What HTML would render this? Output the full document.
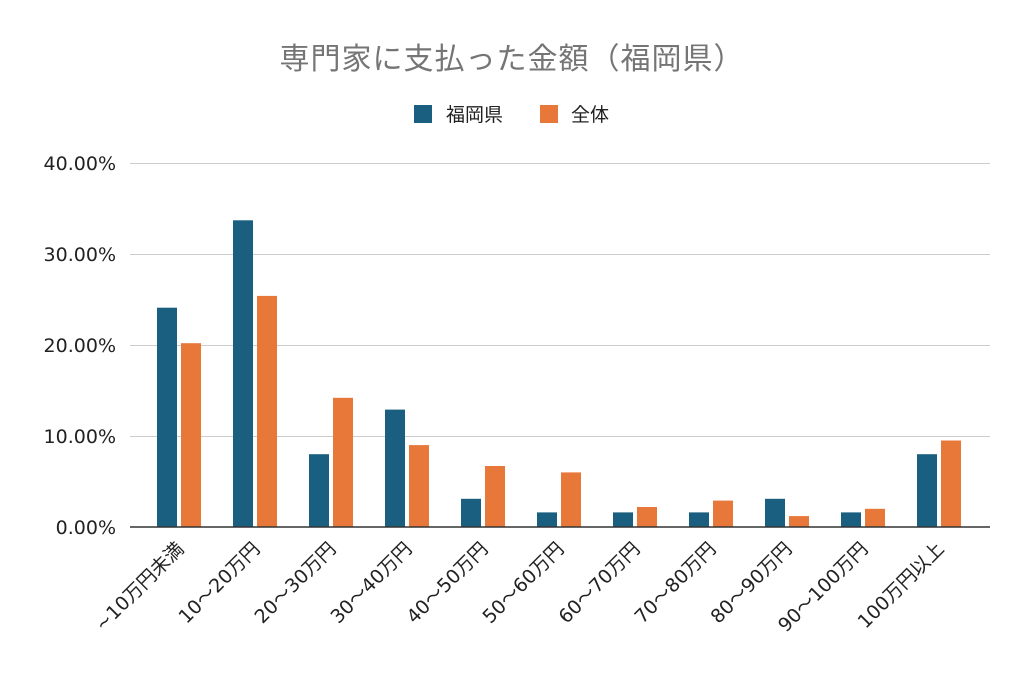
<!DOCTYPE html>
<html><head><meta charset="utf-8"><style>
body{margin:0;background:#fff;}
svg text{font-family:"DejaVu Sans","Liberation Sans","Noto Sans CJK JP",sans-serif;}
.lb text{font-family:"DejaVu Sans","Noto Sans CJK JP",sans-serif;}
</style></head><body>
<svg width="1024" height="673" viewBox="0 0 1024 673" xmlns="http://www.w3.org/2000/svg">
<rect width="1024" height="673" fill="#fff"/>
<text x="512" y="69" text-anchor="middle" font-size="30" letter-spacing="1" fill="#757575" style="font-family:'Noto Sans CJK JP',sans-serif">専門家に支払った金額（福岡県）</text>
<rect x="414" y="105" width="18" height="18" fill="#1a5e80"/>
<text x="446" y="121" font-size="19" fill="#222" style="font-family:'Noto Sans CJK JP',sans-serif">福岡県</text>
<rect x="540" y="105" width="18" height="18" fill="#e8773a"/>
<text x="571" y="121" font-size="19" fill="#222" style="font-family:'Noto Sans CJK JP',sans-serif">全体</text>
<g stroke="#cccccc" stroke-width="1">
<line x1="130" y1="163.5" x2="990" y2="163.5"/>
<line x1="130" y1="254.5" x2="990" y2="254.5"/>
<line x1="130" y1="345.5" x2="990" y2="345.5"/>
<line x1="130" y1="436.5" x2="990" y2="436.5"/>
</g>
<g font-size="19" fill="#222" text-anchor="end">
<text x="116" y="170">40.00%</text>
<text x="116" y="261">30.00%</text>
<text x="116" y="352">20.00%</text>
<text x="116" y="443">10.00%</text>
<text x="116" y="534">0.00%</text>
</g>
<g fill="#1a5e80">
<rect x="157" y="307.7" width="20" height="219.3"/>
<rect x="233" y="220.3" width="20" height="306.7"/>
<rect x="309" y="454.2" width="20" height="72.8"/>
<rect x="385" y="409.6" width="20" height="117.4"/>
<rect x="461" y="498.8" width="20" height="28.2"/>
<rect x="537" y="512.4" width="20" height="14.6"/>
<rect x="613" y="512.4" width="20" height="14.6"/>
<rect x="689" y="512.4" width="20" height="14.6"/>
<rect x="765" y="498.8" width="20" height="28.2"/>
<rect x="841" y="512.4" width="20" height="14.6"/>
<rect x="917" y="454.2" width="20" height="72.8"/>
</g>
<g fill="#e8773a">
<rect x="181" y="343.2" width="20" height="183.8"/>
<rect x="257" y="295.9" width="20" height="231.1"/>
<rect x="333" y="397.8" width="20" height="129.2"/>
<rect x="409" y="445.1" width="20" height="81.9"/>
<rect x="485" y="466" width="20" height="61"/>
<rect x="561" y="472.4" width="20" height="54.6"/>
<rect x="637" y="507" width="20" height="20"/>
<rect x="713" y="500.6" width="20" height="26.4"/>
<rect x="789" y="516.1" width="20" height="10.9"/>
<rect x="865" y="508.8" width="20" height="18.2"/>
<rect x="941" y="440.5" width="20" height="86.5"/>
</g>
<line x1="130" y1="527" x2="990" y2="527" stroke="#333" stroke-width="1.5"/>
<g class="lb" font-size="19" fill="#222" text-anchor="end">
<text x="185" y="550" transform="rotate(-45 185 550)">~10万円未満</text>
<text x="261" y="550" transform="rotate(-45 261 550)">10～20万円</text>
<text x="337" y="550" transform="rotate(-45 337 550)">20～30万円</text>
<text x="413" y="550" transform="rotate(-45 413 550)">30～40万円</text>
<text x="489" y="550" transform="rotate(-45 489 550)">40～50万円</text>
<text x="565" y="550" transform="rotate(-45 565 550)">50～60万円</text>
<text x="641" y="550" transform="rotate(-45 641 550)">60～70万円</text>
<text x="717" y="550" transform="rotate(-45 717 550)">70～80万円</text>
<text x="793" y="550" transform="rotate(-45 793 550)">80～90万円</text>
<text x="869" y="550" transform="rotate(-45 869 550)">90～100万円</text>
<text x="945" y="550" transform="rotate(-45 945 550)">100万円以上</text>
</g>
</svg>
</body></html>
